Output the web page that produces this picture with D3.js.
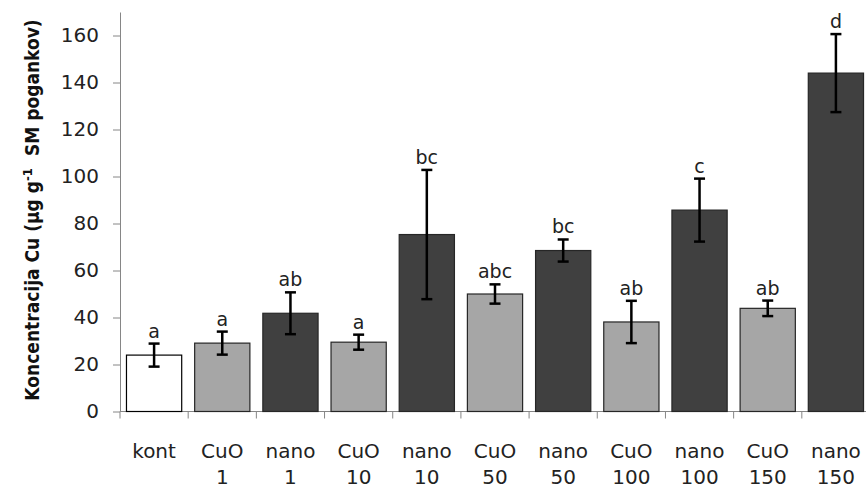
<!DOCTYPE html>
<html>
<head>
<meta charset="utf-8">
<script src="https://cdn.jsdelivr.net/npm/d3@7"></script>
<style>
  body { margin: 0; background: #fff; }
  svg { display: block; }
</style>
</head>
<body>
<div id="chart"></div>
<script>
// treatment groups (two-line labels)
let labelTop = ["kont", "CuO", "nano", "CuO", "nano", "CuO", "nano", "CuO", "nano", "CuO", "nano"]
let labelBottom = ["", "1", "1", "10", "10", "50", "50", "100", "100", "150", "150"]
let groups = ["kont", "CuO", "nano", "CuO", "nano", "CuO", "nano", "CuO", "nano", "CuO", "nano"]
let means = [24, 29.1, 41.8, 29.5, 75.3, 50, 68.5, 38.1, 85.7, 43.9, 144]
let errors = [4.9, 4.9, 8.9, 3.2, 27.5, 4.1, 4.7, 9, 13.4, 3.3, 16.6]
let letters = ["a", "a", "ab", "a", "bc", "abc", "bc", "ab", "c", "ab", "d"]
let yTicks = [0, 20, 40, 60, 80, 100, 120, 140, 160]

let data = means.map((m, i) => ({
  id: i,
  top: labelTop[i],
  bottom: labelBottom[i],
  group: groups[i],
  mean: m,
  err: errors[i],
  letter: letters[i]
}))

let width = 866
let height = 489
let margin = { top: 12, right: -4, bottom: 77.5, left: 120 }

let colors = { kont: "#ffffff", CuO: "#a6a6a6", nano: "#404040" }

let svg = d3.select("#chart")
  .append("svg")
  .attr("width", width)
  .attr("height", height)

let x = d3.scaleBand()
  .domain(data.map(d => d.id))
  .range([margin.left, width - margin.right])
  .paddingInner(0.19)
  .paddingOuter(0.095)

let y = d3.scaleLinear()
  .domain([0, 170])
  .range([height - margin.bottom, margin.top])

let font = "DejaVu Sans, sans-serif"

// y axis
let yAxis = svg.append("g")
  .attr("transform", `translate(${margin.left},0)`)
  .call(d3.axisLeft(y).tickValues(yTicks).tickSize(7).tickSizeOuter(0).tickPadding(14))
yAxis.select(".domain").attr("stroke", "#868686")
yAxis.selectAll(".tick line").attr("stroke", "#868686")
yAxis.selectAll(".tick text")
  .attr("fill", "#222")
  .style("font", `20px ${font}`)

// x axis: ticks at category boundaries
let step = x.step()
let bounds = data.map(d => x(d.id) - (step - x.bandwidth()) / 2).concat([width - margin.right])
let xg = svg.append("g")
xg.append("line")
  .attr("x1", margin.left)
  .attr("x2", width - margin.right)
  .attr("y1", y(0))
  .attr("y2", y(0))
  .attr("stroke", "#868686")
xg.selectAll(".xt")
  .data(bounds)
  .enter().append("line")
    .attr("x1", d => d)
    .attr("x2", d => d)
    .attr("y1", y(0))
    .attr("y2", y(0) + 7)
    .attr("stroke", "#868686")

// bars
svg.append("g")
  .selectAll("rect")
  .data(data)
  .enter().append("rect")
    .attr("x", d => x(d.id))
    .attr("y", d => y(d.mean))
    .attr("width", x.bandwidth())
    .attr("height", d => y(0) - y(d.mean))
    .attr("fill", d => colors[d.group])
    .attr("stroke", d => d.group == "kont" ? "#000" : "#262626")
    .attr("stroke-width", 1.2)

// error bars
let eb = svg.append("g")
  .attr("stroke", "#000")
  .attr("stroke-width", 2.5)
  .selectAll("g")
  .data(data)
  .enter().append("g")
eb.append("line")
  .attr("x1", d => x(d.id) + x.bandwidth() / 2)
  .attr("x2", d => x(d.id) + x.bandwidth() / 2)
  .attr("y1", d => y(d.mean + d.err))
  .attr("y2", d => y(d.mean - d.err))
eb.selectAll(".cap")
  .data(d => [d.mean + d.err, d.mean - d.err].map(v => ({ id: d.id, v: v })))
  .enter().append("line")
    .attr("x1", d => x(d.id) + x.bandwidth() / 2 - 5.5)
    .attr("x2", d => x(d.id) + x.bandwidth() / 2 + 5.5)
    .attr("y1", d => y(d.v))
    .attr("y2", d => y(d.v))

// significance letters
svg.append("g")
  .attr("text-anchor", "middle")
  .attr("fill", "#222")
  .style("font", `19px ${font}`)
  .selectAll("text")
  .data(data)
  .enter().append("text")
    .attr("x", d => x(d.id) + x.bandwidth() / 2)
    .attr("y", d => y(d.mean + d.err) - 6)
    .text(d => d.letter)

// category labels
let cl = svg.append("g")
  .attr("text-anchor", "middle")
  .attr("fill", "#222")
  .style("font", `20px ${font}`)
  .selectAll("text")
  .data(data)
  .enter().append("text")
    .attr("x", d => x(d.id) + x.bandwidth() / 2)
    .attr("y", 458)
cl.append("tspan")
  .text(d => d.top)
cl.append("tspan")
  .attr("x", d => x(d.id) + x.bandwidth() / 2)
  .attr("y", 484)
  .text(d => d.bottom)

// y axis title
let title = svg.append("text")
  .attr("transform", `translate(39,210) rotate(-90)`)
  .attr("text-anchor", "middle")
  .attr("fill", "#111")
  .style("font", `bold 19px "DejaVu Sans Condensed", ${font}`)
  .style("font-stretch", "condensed")
title.append("tspan").text("Koncentracija Cu (µg g")
title.append("tspan")
  .attr("baseline-shift", "super")
  .style("font-size", "13px")
  .text("-1")
title.append("tspan").text("\u00a0 SM pogankov)")
</script>
</body>
</html>
